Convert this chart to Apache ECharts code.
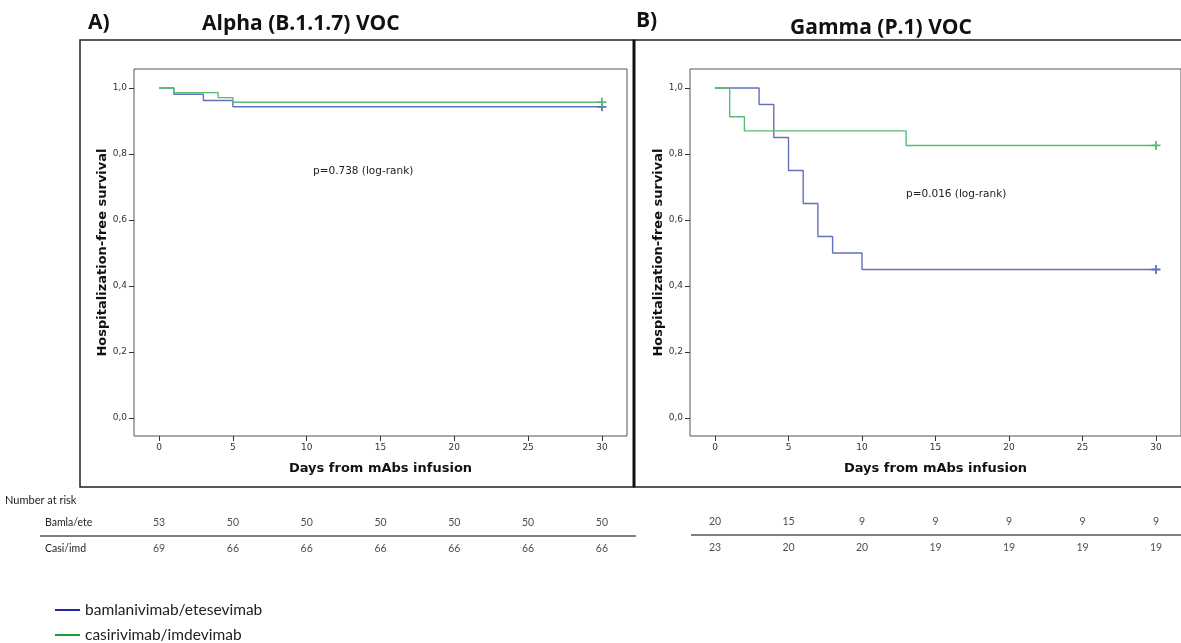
<!DOCTYPE html>
<html>
<head>
<meta charset="utf-8">
<script src="https://cdn.jsdelivr.net/npm/echarts@6/dist/echarts.min.js"></script>
<style>
  html, body { margin: 0; padding: 0; background: #fff; }
  #chart { width: 1181px; height: 643px; }
</style>
</head>
<body>
<div id="chart"></div>
<script>
// Kaplan-Meier step curves (days, survival), censored at day 30
const alphaBamlaDays = [0, 1, 3, 5, 30];
const alphaBamlaSurv = [1, 0.981, 0.962, 0.943, 0.943];
const alphaCasiDays = [0, 1, 4, 5, 30];
const alphaCasiSurv = [1, 0.986, 0.971, 0.957, 0.957];

const gammaBamlaDays = [0, 3, 4, 5, 6, 7, 8, 10, 30];
const gammaBamlaSurv = [1, 0.95, 0.85, 0.75, 0.65, 0.55, 0.50, 0.45, 0.45];
const gammaCasiDays = [0, 1, 2, 13, 30];
const gammaCasiSurv = [1, 0.913, 0.870, 0.826, 0.826];

// number at risk
const riskDays = [0, 5, 10, 15, 20, 25, 30];
const alphaRiskBamla = [53, 50, 50, 50, 50, 50, 50];
const alphaRiskCasi = [69, 66, 66, 66, 66, 66, 66];
const gammaRiskBamla = [20, 15, 9, 9, 9, 9, 9];
const gammaRiskCasi = [23, 20, 20, 19, 19, 19, 19];

const xTicks = [0, 5, 10, 15, 20, 25, 30];
const yTicks = [0, 0.2, 0.4, 0.6, 0.8, 1.0];
const groupNames = ['bamlanivimab/etesevimab', 'casirivimab/imdevimab'];
const rowNames = ['Bamla/ete', 'Casi/imd'];

const BLUE = '#6370bb';
const GREEN = '#55bd72';
const PLUS = 'path://M4,0h2v4h4v2h-4v4h-2v-4h-4v-2h4z';
const tickFont = 'DejaVu Sans';

const zip = (xs, ys) => xs.map((x, i) => [x, ys[i]]);

function kmSeries(name, days, surv, color, gi) {
  const last = days.length - 1;
  return {
    type: 'line', name: name, step: 'end',
    xAxisIndex: gi, yAxisIndex: gi,
    data: zip(days, surv),
    showSymbol: false,
    lineStyle: { color: color, width: 1.4 },
    itemStyle: { color: color },
    animation: false,
    markPoint: {
      symbol: PLUS, symbolSize: 9, silent: true,
      itemStyle: { color: color },
      label: { show: false },
      data: [{ coord: [days[last], surv[last]] }]
    }
  };
}

function riskSeries(counts, row, gi) {
  return {
    type: 'scatter', xAxisIndex: gi, yAxisIndex: gi,
    symbolSize: 0, silent: true, animation: false,
    data: riskDays.map((d, i) => [d, row, counts[i]]),
    label: {
      show: true, position: 'inside',
      formatter: p => String(p.value[2]),
      fontFamily: 'Lato', fontSize: 10.5, color: '#222'
    }
  };
}

const plotGrids = [
  { left: 134, top: 69, width: 493, height: 367 },
  { left: 690, top: 69, width: 493, height: 367 }
];
const riskGrids = [
  { left: 134, top: 510, width: 493, height: 52 },
  { left: 690, top: 509, width: 493, height: 52 }
];

const grid = plotGrids.map(g => Object.assign({ show: true, borderColor: '#555', borderWidth: 1 }, g))
  .concat(riskGrids.map(g => Object.assign({ show: false }, g)));

const plotX = [0, 1].map(i => ({
  type: 'value', gridIndex: i, min: -1.7, max: 31.7,
  name: 'Days from mAbs infusion', nameLocation: 'middle', nameGap: 26,
  nameTextStyle: { fontFamily: 'DejaVu Sans', fontWeight: 'bold', fontSize: 13, color: '#111' },
  axisLine: { show: false, onZero: false },
  axisTick: { show: true, customValues: xTicks, length: 5, lineStyle: { color: '#333', width: 1 } },
  axisLabel: { customValues: xTicks, fontFamily: tickFont, fontSize: 9, color: '#333', margin: 7 },
  splitLine: { show: false }
}));
const plotY = [0, 1].map(i => ({
  type: 'value', gridIndex: i, min: -0.0545, max: 1.0576,
  name: 'Hospitalization-free survival', nameLocation: 'middle', nameGap: 25,
  nameTextStyle: { fontFamily: 'DejaVu Sans', fontWeight: 'bold', fontSize: 13, color: '#111' },
  axisLine: { show: false, onZero: false },
  axisTick: { show: true, customValues: yTicks, length: 5, lineStyle: { color: '#333', width: 1 } },
  axisLabel: {
    customValues: yTicks, fontFamily: tickFont, fontSize: 9, color: '#333', margin: 7,
    formatter: v => v.toFixed(1).replace('.', ',')
  },
  splitLine: { show: false }
}));
const riskX = [2, 3].map(i => ({
  type: 'value', gridIndex: i, min: -1.7, max: 31.7, show: false
}));
const riskY = [2, 3].map((i, k) => ({
  type: 'category', gridIndex: i, data: rowNames, inverse: true,
  axisLine: { show: false }, axisTick: { show: false },
  axisLabel: {
    show: k === 0, align: 'left', margin: 89,
    fontFamily: 'Lato', fontSize: 10.5, color: '#222'
  }
}));

const legendColors = ['#2424a8', '#1c9a3c'];
const legend = groupNames.map((n, i) => ({
  left: 50, top: 597 + i * 25,
  itemWidth: 25, itemHeight: 2, icon: 'rect', itemGap: 5,
  textStyle: { fontFamily: 'Lato', fontSize: 15.5, color: '#222' },
  data: [{ name: n, itemStyle: { color: legendColors[i] } }],
  selectedMode: false
}));

const option = {
  backgroundColor: '#fff',
  animation: false,
  grid: grid,
  xAxis: plotX.concat(riskX),
  yAxis: plotY.concat(riskY),
  legend: legend,
  series: [
    kmSeries(groupNames[0], alphaBamlaDays, alphaBamlaSurv, BLUE, 0),
    kmSeries(groupNames[1], alphaCasiDays, alphaCasiSurv, GREEN, 0),
    kmSeries(groupNames[0], gammaBamlaDays, gammaBamlaSurv, BLUE, 1),
    kmSeries(groupNames[1], gammaCasiDays, gammaCasiSurv, GREEN, 1),
    riskSeries(alphaRiskBamla, rowNames[0], 2),
    riskSeries(alphaRiskCasi, rowNames[1], 2),
    riskSeries(gammaRiskBamla, rowNames[0], 3),
    riskSeries(gammaRiskCasi, rowNames[1], 3)
  ],
  graphic: [
    // panel frames
    { type: 'rect', shape: { x: 80, y: 40, width: 554, height: 447 },
      style: { fill: null, stroke: '#222', lineWidth: 1.5 }, z: 0 },
    { type: 'rect', shape: { x: 634, y: 40, width: 560, height: 447 },
      style: { fill: null, stroke: '#222', lineWidth: 1.5 }, z: 0 },
    { type: 'line', shape: { x1: 634, y1: 40, x2: 634, y2: 487 },
      style: { stroke: '#111', lineWidth: 3 } },
    // panel titles
    { type: 'text', left: 88, top: 13,
      style: { text: 'A)', font: 'bold 21px "Open Sans"', fill: '#111' } },
    { type: 'text', left: 202, top: 14,
      style: { text: 'Alpha (B.1.1.7) VOC', font: 'bold 21px "Open Sans"', fill: '#111' } },
    { type: 'text', left: 636, top: 11,
      style: { text: 'B)', font: 'bold 21px "Open Sans"', fill: '#111' } },
    { type: 'text', left: 790, top: 18,
      style: { text: 'Gamma (P.1) VOC', font: 'bold 21px "Open Sans"', fill: '#111' } },
    // log-rank annotations
    { type: 'text', left: 313, top: 166,
      style: { text: 'p=0.738 (log-rank)', font: '10.5px "DejaVu Sans"', fill: '#222' } },
    { type: 'text', left: 906, top: 189,
      style: { text: 'p=0.016 (log-rank)', font: '10.5px "DejaVu Sans"', fill: '#222' } },
    // number at risk
    { type: 'text', left: 5, top: 495,
      style: { text: 'Number at risk', font: '11px Lato', fill: '#222' } },
    { type: 'line', shape: { x1: 40, y1: 536, x2: 636, y2: 536 },
      style: { stroke: '#555', lineWidth: 1.5 } },
    { type: 'line', shape: { x1: 691, y1: 535, x2: 1181, y2: 535 },
      style: { stroke: '#555', lineWidth: 1.5 } }
  ]
};

const chart = echarts.init(document.getElementById('chart'), null, { renderer: 'canvas' });
chart.setOption(option);
</script>
</body>
</html>
